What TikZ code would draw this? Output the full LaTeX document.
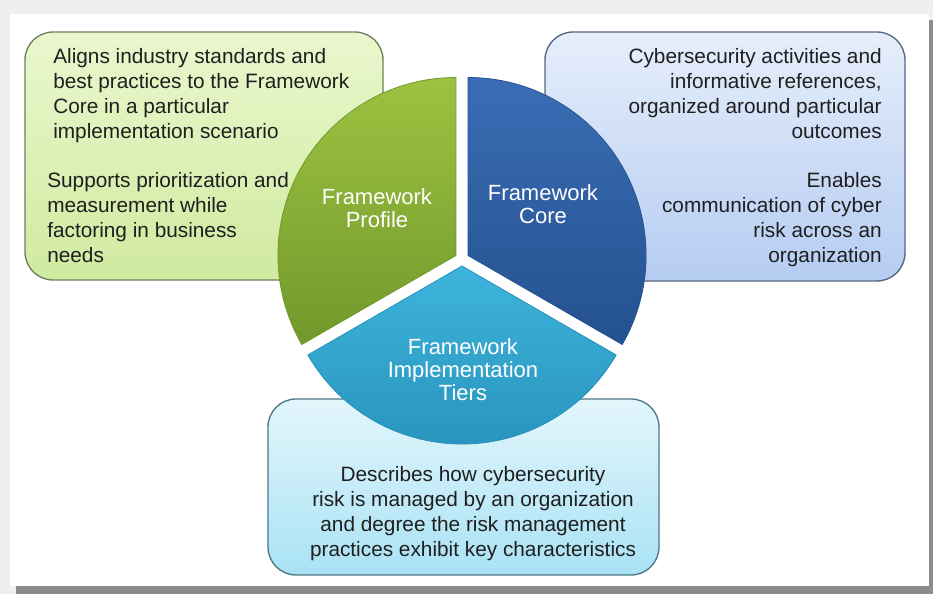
\documentclass[tikz,border=0pt]{standalone}
\usepackage{fontspec}
\setmainfont{Liberation Sans}
\usepackage{xcolor}
\usepackage{tikz}
\definecolor{fwpage}{HTML}{EFEFEF}
\definecolor{fwshadow}{HTML}{8C8C8C}
\definecolor{profiletop}{HTML}{EAF7CE}
\definecolor{profilebot}{HTML}{D0EAA0}
\definecolor{profileline}{HTML}{6E7F5E}
\definecolor{coretop}{HTML}{E6EEFB}
\definecolor{corebot}{HTML}{B5CCF2}
\definecolor{coreline}{HTML}{55667F}
\definecolor{tierstop}{HTML}{E3F6FC}
\definecolor{tiersbot}{HTML}{A9E2F5}
\definecolor{tiersline}{HTML}{4E7786}
\definecolor{profilesecA}{HTML}{9DC241}
\definecolor{profilesecB}{HTML}{71992B}
\definecolor{coresecA}{HTML}{3A6DB5}
\definecolor{coresecB}{HTML}{24518F}
\definecolor{tierssecA}{HTML}{3DB4DC}
\definecolor{tierssecB}{HTML}{2791BA}
\tikzset{
  fwbox/.style={rounded corners=21pt, line width=1pt},
  fwsector/.style={line width=0.6pt},
  fwtext/.style={inner sep=0pt, text=black!88, font=\fontsize{15.6}{18.75}\selectfont},
  fwlabel/.style={inner sep=0pt, text=white, align=center, font=\fontsize{16.5}{17.25}\selectfont},
}

\begin{document}
\begin{tikzpicture}[x=0.75pt, y=0.75pt]
\useasboundingbox (0,0) rectangle (933,594);
% page and card with its shadow
\fill[fwpage] (0,0) rectangle (933,594);
\fill[fwshadow] (16,0) rectangle (933,574);
\fill[white] (10,8) rectangle (929,580);
% text boxes
\shade[fwbox, top color=profiletop, bottom color=profilebot, draw=profileline] (25,314) rectangle (383,562);
\shade[fwbox, top color=coretop, bottom color=corebot, draw=coreline] (545,313) rectangle (905,562);
\shade[fwbox, top color=tierstop, bottom color=tiersbot, draw=tiersline] (268,19) rectangle (659,195);
% pie, each slice pushed out along its middle
\coordinate (ctr) at (462,335);
\coordinate (profilec) at ([shift={(150:7)}]ctr);
\coordinate (corec) at ([shift={(30:7)}]ctr);
\coordinate (tiersc) at ([shift={(270:7)}]ctr);
\shade[fwsector, top color=profilesecA, bottom color=profilesecB, draw=profilesecB]
  (profilec) -- ++(90:178) arc[start angle=90, end angle=210, radius=178] -- cycle;
\shade[fwsector, top color=coresecA, bottom color=coresecB, draw=coresecB]
  (corec) -- ++(90:178) arc[start angle=90, end angle=-30, radius=178] -- cycle;
\shade[fwsector, top color=tierssecA, bottom color=tierssecB, draw=tierssecB]
  (tiersc) -- ++(210:178) arc[start angle=210, end angle=330, radius=178] -- cycle;
% slice labels
\node[fwlabel] (profile) at (377,386) {Framework\\Profile};
\node[fwlabel] (core) at (543,390) {Framework\\Core};
\node[fwlabel] (tiers) at (463,224) {Framework\\Implementation\\Tiers};
% box texts
\node[fwtext, align=left, anchor=north west] (profiletxtA) at (53,546)
  {Aligns industry standards and\\best practices to the Framework\\Core in a particular\\implementation scenario};
\node[fwtext, align=left, anchor=north west] (profiletxtB) at (47,422)
  {Supports prioritization and\\measurement while\\factoring in business\\needs};
\node[fwtext, align=right, anchor=north east] (coretxtA) at (882,546)
  {Cybersecurity activities and\\informative references,\\organized around particular\\outcomes};
\node[fwtext, align=right, anchor=north east] (coretxtB) at (882,422)
  {Enables\\communication of cyber\\risk across an\\organization};
\node[fwtext, align=center, anchor=north] (tierstxt) at (473,128)
  {Describes how cybersecurity\\risk is managed by an organization\\and degree the risk management\\practices exhibit key characteristics};
\end{tikzpicture}
\end{document}
